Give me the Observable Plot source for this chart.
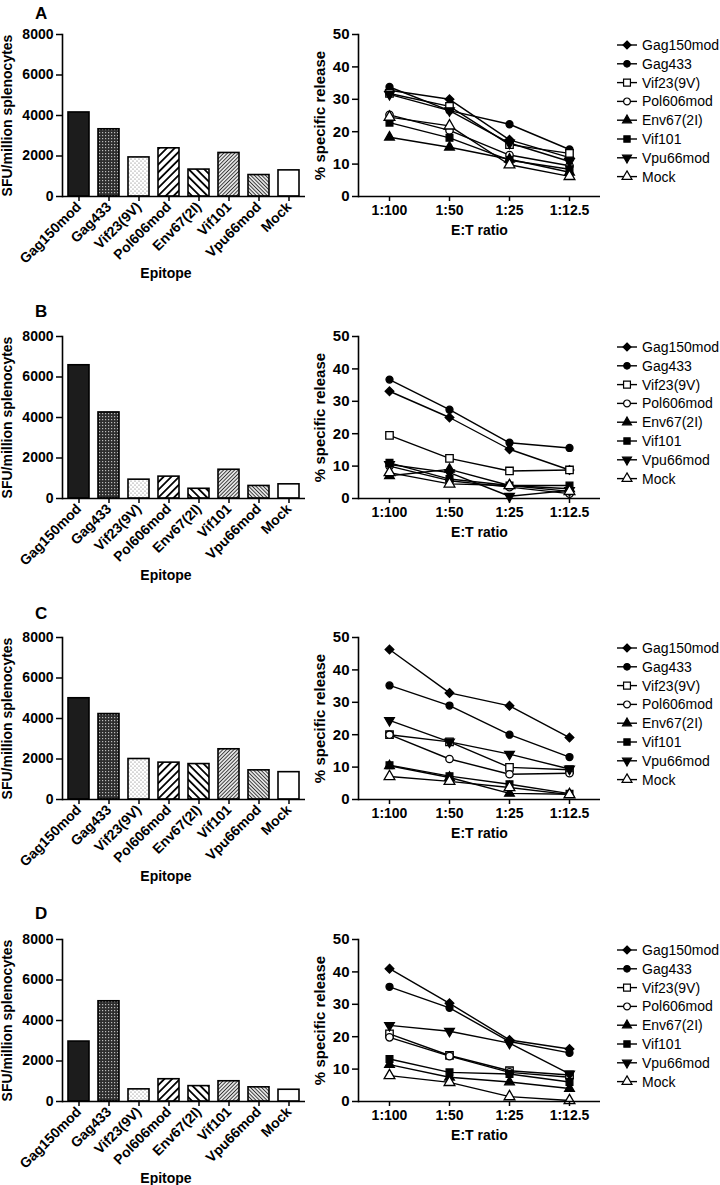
<!DOCTYPE html>
<html><head><meta charset="utf-8">
<script src="https://cdn.jsdelivr.net/npm/d3@7"></script>
<script src="https://cdn.jsdelivr.net/npm/@observablehq/plot@0.6"></script>
<style>
body{margin:0;background:#fff;font-family:"Liberation Sans",Arial,sans-serif;}
#root{position:relative;width:720px;height:1185px;overflow:hidden;background:#fff;}
.abs{position:absolute;}
.plabel{position:absolute;font-weight:bold;font-size:17px;line-height:1;color:#000;}
.xtitle{position:absolute;font-weight:bold;font-size:14px;line-height:1;color:#000;transform:translateX(-50%);white-space:nowrap;}
.barplot g[aria-label="y-axis tick label"] text{font-size:14px;}
.barplot g[aria-label="x-axis tick label"] text{font-size:14px;}
.lineplot g[aria-label="y-axis tick label"] text{font-size:15px;}
.lineplot g[aria-label="x-axis tick label"] text{font-size:14px;}
.barplot g[aria-label="y-axis label"] text{font-size:14px;}
.lineplot g[aria-label="y-axis label"] text{font-size:15px;}
.lineplot g[aria-label="x-axis label"] text{font-size:14px;}
</style></head><body>
<svg width="0" height="0" style="position:absolute;left:0;top:0">
<defs>
<pattern id="pat0" width="4" height="4" patternUnits="userSpaceOnUse"><rect width="4" height="4" fill="#1c1c1c"/></pattern>
<pattern id="pat1" width="3" height="3" patternUnits="userSpaceOnUse"><rect width="3" height="3" fill="#2e2e2e"/><rect width="1.2" height="1.2" fill="#bbb"/></pattern>
<pattern id="pat2" width="4" height="4" patternUnits="userSpaceOnUse"><rect width="4" height="4" fill="#fff"/><circle cx="1" cy="1" r="0.6" fill="#666"/><circle cx="3" cy="3" r="0.6" fill="#666"/></pattern>
<pattern id="pat3" width="5.5" height="5.5" patternUnits="userSpaceOnUse" patternTransform="rotate(45)"><rect width="5.5" height="5.5" fill="#fff"/><line x1="2.75" y1="0" x2="2.75" y2="5.5" stroke="#000" stroke-width="1.8"/></pattern>
<pattern id="pat4" width="5.5" height="5.5" patternUnits="userSpaceOnUse" patternTransform="rotate(-45)"><rect width="5.5" height="5.5" fill="#fff"/><line x1="2.75" y1="0" x2="2.75" y2="5.5" stroke="#000" stroke-width="1.8"/></pattern>
<pattern id="pat5" width="2.6" height="2.6" patternUnits="userSpaceOnUse" patternTransform="rotate(45)"><rect width="2.6" height="2.6" fill="#fff"/><line x1="1.3" y1="0" x2="1.3" y2="2.6" stroke="#333" stroke-width="1.1"/></pattern>
<pattern id="pat6" width="2.6" height="2.6" patternUnits="userSpaceOnUse" patternTransform="rotate(-45)"><rect width="2.6" height="2.6" fill="#fff"/><line x1="1.3" y1="0" x2="1.3" y2="2.6" stroke="#333" stroke-width="1.1"/></pattern>
<pattern id="pat7" width="4" height="4" patternUnits="userSpaceOnUse"><rect width="4" height="4" fill="#fff"/></pattern>
</defs></svg>
<div id="root"></div>
<script>
// ---------- data ----------
const epitopes = ["Gag150mod","Gag433","Vif23(9V)","Pol606mod","Env67(2I)","Vif101","Vpu66mod","Mock"];
const ratios = ["1:100","1:50","1:25","1:12.5"];
const panelNames = ["A","B","C","D"];
const sfuTicks = [0,2000,4000,6000,8000];
const releaseTicks = [0,10,20,30,40,50];

// SFU/million splenocytes, in epitope order
const sfuA = [4150,3320,1930,2380,1330,2150,1060,1290];
const sfuB = [6580,4250,930,1080,480,1420,620,700];
const sfuC = [5000,4220,2000,1820,1750,2480,1440,1350];
const sfuD = [2960,4950,600,1100,760,1000,700,580];

// % specific release: rows in epitope order, columns in ratio order
const releaseA = [
  [32.8,30.0,17.5,12.0],
  [33.8,26.5,22.3,14.5],
  [31.8,27.8,16.0,13.3],
  [25.2,20.4,12.8,9.5],
  [18.3,15.2,11.5,7.5],
  [22.8,18.1,11.2,8.4],
  [31.5,26.5,16.5,10.8],
  [24.5,21.8,9.8,6.2]
];
const releaseB = [
  [33.1,25.0,15.2,8.8],
  [36.7,27.4,17.2,15.6],
  [19.5,12.4,8.5,8.8],
  [10.0,5.5,3.5,1.5],
  [7.0,9.0,4.0,3.0],
  [11.0,6.0,4.0,4.0],
  [10.5,8.0,0.7,2.5],
  [8.0,4.5,4.0,2.2]
];
const releaseC = [
  [46.3,32.9,28.9,19.1],
  [35.2,29.0,20.0,13.1],
  [20.0,17.8,9.9,9.2],
  [20.0,12.5,7.8,8.1],
  [10.4,6.8,1.9,1.6],
  [10.6,7.2,4.7,1.8],
  [24.4,17.8,14.0,9.4],
  [7.1,5.6,3.7,1.5]
];
const releaseD = [
  [41.0,30.3,19.0,16.2],
  [35.4,28.9,18.5,15.0],
  [20.9,14.2,9.5,8.2],
  [19.8,14.0,9.0,7.5],
  [11.4,7.5,6.0,4.0],
  [13.1,9.0,8.5,6.0],
  [23.5,21.7,18.0,8.5],
  [8.0,5.9,1.5,0.3]
];
const sfuAll = [sfuA, sfuB, sfuC, sfuD];
const releaseAll = [releaseA, releaseB, releaseC, releaseD];

// ---------- styles / layout ----------
const panelTop = [0, 302, 603, 905];
const labelTop = [5, 303, 605, 905];
const FONT = "'Liberation Sans', Arial, Helvetica, sans-serif";

const symbolTriangleDown = {
  draw(context, size) {
    const y = -Math.sqrt(size / (Math.sqrt(3) * 3));
    context.moveTo(0, -y * 2);
    context.lineTo(-Math.sqrt(3) * y, y);
    context.lineTo(Math.sqrt(3) * y, y);
    context.closePath();
  }
};
const markerStyle = [
  {symbol: d3.symbolDiamond2, fill: "black", r: 3.9},
  {symbol: d3.symbolCircle, fill: "black", r: 3.5},
  {symbol: d3.symbolSquare, fill: "white", r: 4.2},
  {symbol: d3.symbolCircle, fill: "white", r: 3.7},
  {symbol: d3.symbolTriangle, fill: "black", r: 3.6},
  {symbol: d3.symbolSquare, fill: "black", r: 3.8},
  {symbol: symbolTriangleDown, fill: "black", r: 3.6},
  {symbol: d3.symbolTriangle, fill: "white", r: 4.0}
];

const root = document.getElementById("root");

function place(node, left, top, cls) {
  const wrap = document.createElement("div");
  wrap.className = "abs " + (cls || "");
  wrap.style.left = left + "px";
  wrap.style.top = top + "px";
  wrap.appendChild(node);
  root.appendChild(wrap);
  return wrap;
}

function barChart(values) {
  const data = epitopes.map((e, i) => ({epitope: e, value: values[i], k: i}));
  return Plot.plot({
    width: 310, height: 290,
    marginTop: 34, marginLeft: 62, marginRight: 5, marginBottom: 94,
    style: {fontFamily: FONT, fontSize: "14px", fontWeight: "bold", color: "black", background: "none", overflow: "visible"},
    x: {domain: epitopes, paddingInner: 0.3, paddingOuter: 0.2, label: null},
    y: {domain: [0, 8000], label: null},
    marks: [
      ...data.map(d => Plot.barY([d], {x: "epitope", y: "value", fill: `url(#pat${d.k})`, stroke: "black", strokeWidth: 1.6})),
      Plot.axisX({tickRotate: -45, tickSize: 5, tickPadding: 3, strokeWidth: 1.5, label: null}),
      Plot.axisY({ticks: sfuTicks, tickSize: 6, tickPadding: 3, strokeWidth: 1.5, tickFormat: d3.format("d"), label: "SFU/million splenocytes", labelAnchor: "center", labelOffset: 60, labelArrow: "none"}),
      Plot.ruleY([0], {strokeWidth: 1.6}),
      Plot.frame({anchor: "left", strokeWidth: 1.6})
    ]
  });
}

function lineChart(series) {
  const data = [];
  epitopes.forEach((e, i) => ratios.forEach((r, j) => data.push({epitope: e, ratio: r, value: series[i][j], k: i})));
  const marks = [
    Plot.line(data, {x: "ratio", y: "value", z: "epitope", stroke: "black", strokeWidth: 1.4})
  ];
  epitopes.forEach((e, i) => {
    const m = markerStyle[i];
    marks.push(Plot.dot(data.filter(d => d.k === i), {x: "ratio", y: "value", symbol: m.symbol, r: m.r, fill: m.fill, stroke: "black", strokeWidth: 1.3}));
  });
  return Plot.plot({
    width: 310, height: 290,
    marginTop: 34, marginLeft: 68, marginRight: 0, marginBottom: 94,
    style: {fontFamily: FONT, fontSize: "14px", fontWeight: "bold", color: "black", background: "none", overflow: "visible"},
    x: {type: "point", domain: ratios, padding: 0.5, label: null},
    y: {domain: [0, 50], label: null},
    marks: [
      ...marks,
      Plot.axisX({tickSize: 5, tickPadding: 4, strokeWidth: 1.5, label: "E:T ratio", labelAnchor: "center", labelOffset: 38}),
      Plot.axisY({ticks: releaseTicks, tickSize: 6, tickPadding: 3, strokeWidth: 1.5, label: "% specific release", labelAnchor: "center", labelOffset: 44, labelArrow: "none"}),
      Plot.ruleY([0], {strokeWidth: 1.6}),
      Plot.frame({anchor: "left", strokeWidth: 1.6})
    ]
  });
}

function legend() {
  const svg = d3.create("svg").attr("width", 115).attr("height", 160)
    .style("font-family", FONT).style("font-size", "14px").style("overflow", "visible");
  epitopes.forEach((e, i) => {
    const y = 11 + i * 18.8;
    const m = markerStyle[i];
    const g = svg.append("g").attr("transform", `translate(0,${y})`);
    g.append("line").attr("x1", 12).attr("x2", 32).attr("y1", 0).attr("y2", 0).attr("stroke", "black").attr("stroke-width", 1.4);
    g.append("path").attr("transform", "translate(22,0)")
      .attr("d", d3.symbol(m.symbol, Math.PI * m.r * m.r * 0.85)())
      .attr("fill", m.fill).attr("stroke", "black").attr("stroke-width", 1.2);
    g.append("text").attr("x", 37).attr("dy", "0.35em").attr("fill", "black").text(e);
  });
  return svg.node();
}

panelNames.forEach((name, p) => {
  const T = panelTop[p];
  place(barChart(sfuAll[p]), 0, T, "barplot");
  place(lineChart(releaseAll[p]), 290, T, "lineplot");
  place(legend(), 605, T + 34);
  const xt = document.createElement("div");
  xt.className = "xtitle";
  xt.style.left = "166px";
  xt.style.top = (T + 266) + "px";
  xt.textContent = "Epitope";
  root.appendChild(xt);
  const lab = document.createElement("div");
  lab.className = "plabel";
  lab.style.left = "35px";
  lab.style.top = labelTop[p] + "px";
  lab.textContent = name;
  root.appendChild(lab);
});
</script>
</body></html>
